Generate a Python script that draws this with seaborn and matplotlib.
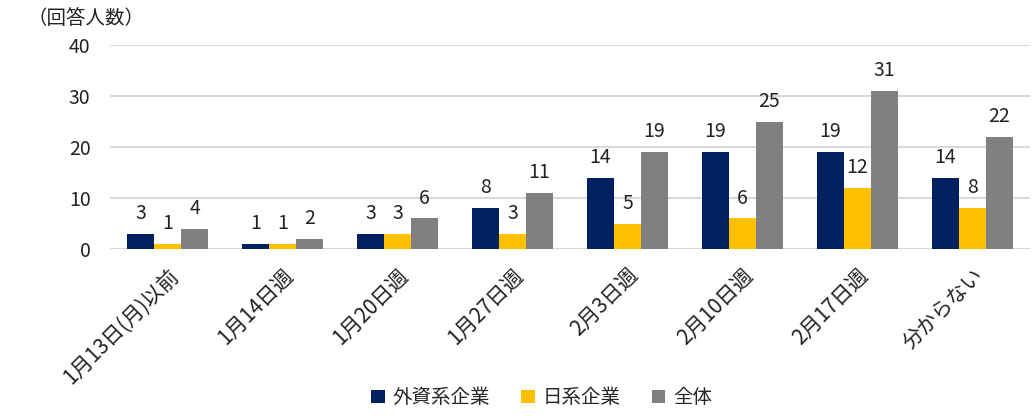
import matplotlib
matplotlib.use("Agg")
import matplotlib.pyplot as plt
import seaborn as sns
import pandas as pd
from matplotlib.patches import Patch

categories = ["1月13日(月)以前", "1月14日週", "1月20日週", "1月27日週",
              "2月3日週", "2月10日週", "2月17日週", "分からない"]
series_names = ["外資系企業", "日系企業", "全体"]
foreign = [3, 1, 3, 8, 14, 19, 19, 14]
japanese = [1, 1, 3, 3, 5, 6, 12, 8]
total = [4, 2, 6, 11, 19, 25, 31, 22]
colors = ["#002060", "#FFC000", "#808080"]
yticks = [0, 10, 20, 30, 40]

sns.set_style("white")
plt.rcParams['font.family'] = ['Noto Sans CJK JP', 'DejaVu Sans']

rows = []
for name, vals in zip(series_names, [foreign, japanese, total]):
    for c, v in zip(categories, vals):
        rows.append({"cat": c, "series": name, "value": v})
df = pd.DataFrame(rows)

fig = plt.figure(figsize=(10.32, 4.18), dpi=100)
ax = fig.add_axes([0.1066, 0.4043, 0.8914, 0.488])
sns.barplot(data=df, x="cat", y="value", hue="series", order=categories,
            hue_order=series_names, palette=colors, width=0.705,
            saturation=1, ax=ax, legend=False, errorbar=None,
            linewidth=0)

for cont in ax.containers:
    for bar in cont:
        h = bar.get_height()
        ax.annotate(f"{int(h)}", (bar.get_x() + bar.get_width() / 2, h),
                    xytext=(0, 7), textcoords="offset points",
                    ha="center", va="bottom", fontsize=14, color="#222222")

ax.set_ylim(0, 40)
ax.set_xlim(-0.5, len(categories) - 0.5)
ax.set_yticks(yticks)
ax.set_yticklabels([str(t) for t in yticks], fontsize=14, color="#222222")
ax.yaxis.grid(True, color="#D9D9D9", linewidth=1.5)
ax.set_axisbelow(True)
for s in ax.spines.values():
    s.set_visible(False)
ax.tick_params(axis="both", length=0)
ax.tick_params(axis="y", pad=14)
ax.tick_params(axis="x", pad=11)
ax.set_xticks(range(len(categories)))
ax.set_xticklabels(categories, rotation=45, ha="right", rotation_mode="anchor",
                   fontsize=15, color="#222222")
ax.set_xlabel("")
ax.set_ylabel("")

fig.text(0.027, 0.955, "（回答人数）", fontsize=14, color="#222222",
         ha="left", va="center")

handles = [Patch(facecolor=c, edgecolor="none") for c in colors]
fig.legend(handles, series_names, loc="center", bbox_to_anchor=(0.525, 0.048),
           ncol=3, frameon=False, fontsize=14, handlelength=0.7,
           handleheight=0.7, handletextpad=0.4, columnspacing=1.6)

fig.savefig("out.png", dpi=100)
